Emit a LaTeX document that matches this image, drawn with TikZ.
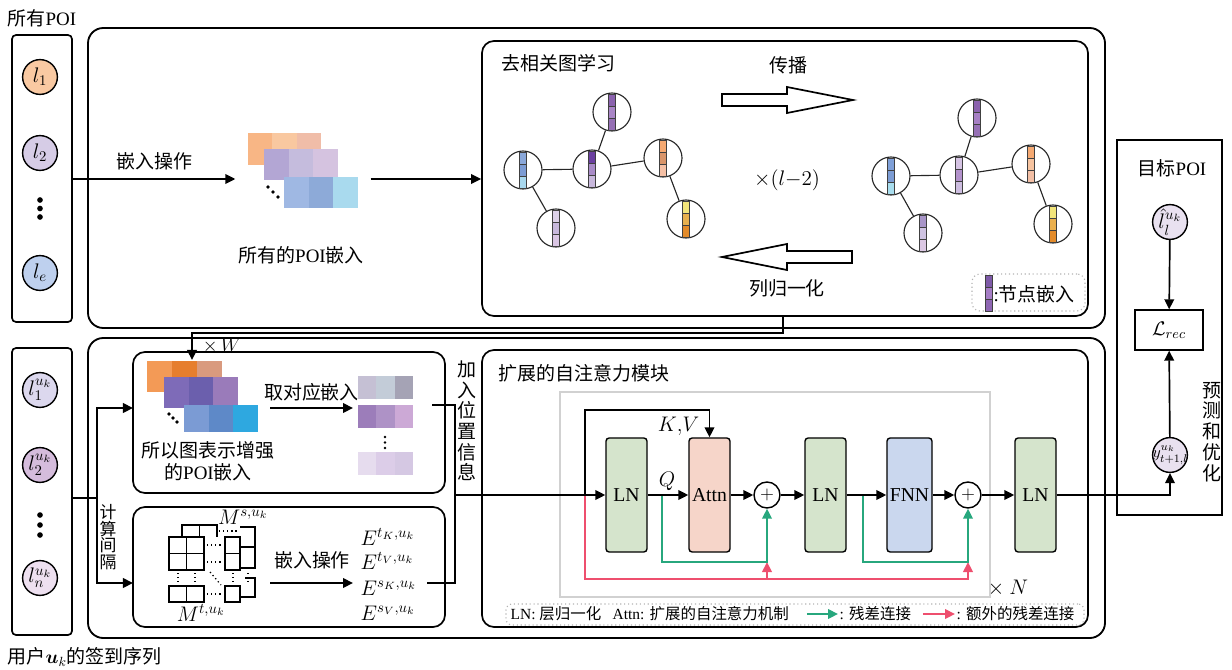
\RequirePackage{fix-cm}
\documentclass[tikz,border=0pt]{standalone}
\usepackage{amsmath}
\usepackage{fontspec}
\setmainfont{Liberation Serif}
\newfontfamily\cjk{Noto Sans CJK SC}
\usepackage{xcolor}
\usepackage{tikz}
\usetikzlibrary{arrows.meta,positioning,calc,fit}

\definecolor{poiorange}{HTML}{F9C9A2}
\definecolor{poililac}{HTML}{D6CCE6}
\definecolor{poiblue}{HTML}{BED0EE}
\definecolor{seqone}{HTML}{DCD8EE}
\definecolor{seqtwo}{HTML}{D5BCDC}
\definecolor{seqn}{HTML}{EEE0F0}
\definecolor{tgtfill}{HTML}{E9E1F0}
\definecolor{lngreen}{HTML}{D5E4CC}
\definecolor{attnpink}{HTML}{F6D5C9}
\definecolor{fnnblue}{HTML}{CAD7EE}
\definecolor{resgreen}{HTML}{27A77D}
\definecolor{extred}{HTML}{EE4F6E}

\begin{document}
\begin{tikzpicture}[x=0.025cm, y=-0.025cm,
    panel/.style={draw, line width=1.3pt, rounded corners=0.38cm, inner sep=0pt},
    subpanel/.style={draw, line width=1.2pt, rounded corners=0.3cm, inner sep=0pt},
    seqpanel/.style={draw, line width=1.2pt, rounded corners=1mm, inner sep=0pt},
    poi/.style={circle, draw, line width=1pt, minimum size=0.87cm, inner sep=-5pt, font=\fontsize{15}{17}\selectfont},
    gcirc/.style={circle, draw=black!85, line width=0.8pt, minimum size=0.95cm, inner sep=0pt},
    cellbar/.style={draw=black!75, line width=0.4pt},
    gedge/.style={draw=black!85, line width=0.8pt},
    blk/.style={draw, line width=1pt, rounded corners=0.8mm, minimum width=1.025cm, minimum height=2.85cm, inner sep=0pt, font=\fontsize{14}{16}\selectfont},
    sumnode/.style={circle, draw, line width=1pt, minimum size=0.65cm, inner sep=0pt, font=\fontsize{13}{14}\selectfont},
    conn/.style={line width=1.2pt},
    arr/.style={conn, -{Triangle[length=2.5mm,width=2.4mm]}},
    resline/.style={line width=1.2pt, draw=resgreen, -{Triangle[length=2.5mm,width=2.4mm]}},
    extline/.style={line width=1.2pt, draw=extred, -{Triangle[length=2.5mm,width=2.4mm]}},
    hollow/.style={draw, line width=1.2pt, line join=miter},
    txt/.style={font=\fontsize{13.5}{15.5}\selectfont, inner sep=1pt},
    mtxt/.style={font=\fontsize{15}{17}\selectfont, inner sep=1pt},
    legtxt/.style={font=\fontsize{11}{12}\selectfont, inner sep=1pt},
    cjkv/.style={font=\cjk\fontsize{13.5}{14.6}\selectfont, align=center, inner sep=0pt},
    legbox/.style={draw=black!30, dotted, line width=0.8pt, inner sep=0pt}]

\useasboundingbox (0,0) rectangle (1232,670);

% ---- panels ----
\node[seqpanel, fit={(12,35) (72,322)}] (poiall) {};
\node[seqpanel, fit={(12,348) (72,635)}] (seqbox) {};
\node[panel, fit={(88,28) (1105,328)}] (topbox) {};
\node[panel, fit={(88,338) (1105,638)}] (botbox) {};
\node[subpanel, fit={(482,41) (1088,316)}] (decor) {};
\node[subpanel, fit={(133,352) (445,493)}] (enhbox) {};
\node[subpanel, fit={(133,507) (445,627)}] (gapbox) {};
\node[subpanel, fit={(482,350) (1088,627)}] (attnbox) {};
\node[draw=black!18, line width=1pt, fit={(560,392) (990,597)}, inner sep=0pt] (layerbox) {};
\node[draw, line width=1.1pt, fit={(1117,140) (1222,515)}, inner sep=0pt] (predbox) {};

% ---- all POIs ----
\node[txt, anchor=west] (poititle) at (6,18) {{\cjk 所有}POI};
\node[poi, fill=poiorange] (p1) at (40,77) {$l_1$};
\node[poi, fill=poililac] (p2) at (40,153) {$l_2$};
\foreach \yy in {200,208.5,217} \fill (40,\yy) circle (2pt);
\node[poi, fill=poiblue] (pe) at (40,273) {$l_e$};

% ---- check-in sequence ----
\node[txt, anchor=west] (seqtitle) at (6,657) {{\cjk 用户}$\boldsymbol{u}_k${\cjk 的签到序列}};
\node[poi, fill=seqone] (s1) at (40,390) {$l_1^{u_k}$};
\node[poi, fill=seqtwo] (s2) at (40,465) {$l_2^{u_k}$};
\foreach \yy in {515,525,535} \fill (40,\yy) circle (2pt);
\node[poi, fill=seqn] (sn) at (40,578) {$l_n^{u_k}$};

% ---- all POI embeddings ----
\foreach \ex/\ey/\ew/\eh/\ca/\cb/\cc in {248/133/24.3/32/F8B685/F9C8A0/F0BDA8,
    264/149/24.7/31/B3A6D4/C5BCDD/D5C3E0, 284/177/24.7/31/9FB8E3/8DAAD8/A9DAEE} {
  \definecolor{cella}{HTML}{\ca}
  \definecolor{cellb}{HTML}{\cb}
  \definecolor{cellc}{HTML}{\cc}
  \fill[cella] (\ex,\ey) rectangle ++(\ew,\eh);
  \fill[cellb] (\ex+\ew,\ey) rectangle ++(\ew,\eh);
  \fill[cellc] (\ex+2*\ew,\ey) rectangle ++(\ew,\eh);
}
\foreach \dx/\dy in {268/187,273/192,278/197} \fill (\dx,\dy) circle (1.3pt);
\node[fit={(248,133) (358,208)}, inner xsep=0.31cm, inner ysep=0pt] (allemb) {};
\node[txt] (allembtxt) at (301,255) {{\cjk 所有的}POI{\cjk 嵌入}};

\coordinate (embrow) at (0,179);
\draw[arr] (poiall.east |- embrow) -- node[txt, above=5pt] (embop) {\cjk 嵌入操作} (allemb.west |- embrow);
\draw[arr] (allemb.east |- embrow) -- (decor.west |- embrow);

% ---- decorrelated graph learning ----
\node[txt, anchor=west] (decortitle) at (500,63) {\cjk 去相关图学习};
\foreach \nm/\px/\py/\ca/\cb/\cc in {
    ga1/612/112/8B62AE/A985C6/9670B5, ga2/523/170/8AA8DA/7C9CD4/A8D8EE,
    ga3/592/169/6B3FA0/A98BC8/C8B8DC, ga4/663/158/F5A972/D9956A/F5C0A5,
    ga5/556/228/DCD0E8/C8B8DC/D9C5E3, ga6/686/219/F3E57A/E8B04E/E38B2A,
    gb1/977/118/8B62AE/A67FC4/9670B5, gb2/891/176/7FA0D8/7C9CD4/A8DDEE,
    gb3/959/175/D5C3E3/B392CC/CDBDE0, gb4/1031/164/F5A972/F7C4A0/F3BFA5,
    gb5/923/233/A895C8/CFC3E2/DCC8E4, gb6/1053/224/F3E57A/EBB04E/E38B2A} {
  \node[gcirc] (\nm) at (\px,\py) {};
  \definecolor{cella}{HTML}{\ca}
  \definecolor{cellb}{HTML}{\cb}
  \definecolor{cellc}{HTML}{\cc}
  \filldraw[cellbar, fill=cella] (\px-3.5,\py-18) rectangle ++(7,12);
  \filldraw[cellbar, fill=cellb] (\px-3.5,\py-6) rectangle ++(7,12);
  \filldraw[cellbar, fill=cellc] (\px-3.5,\py+6) rectangle ++(7,12);
}
\foreach \g in {ga,gb} {
  \draw[gedge] (\g2) -- (\g3);
  \draw[gedge] (\g3) -- (\g1);
  \draw[gedge] (\g3) -- (\g4);
  \draw[gedge] (\g2) -- (\g5);
  \draw[gedge] (\g4) -- (\g6);
}

% propagation / normalisation arrows
\draw[hollow] (722,94) -- (787,94) -- (787,87) -- (853,100) -- (787,113) -- (787,106) -- (722,106) -- cycle;
\draw[hollow] (852,251) -- (787,251) -- (787,244) -- (722,257) -- (787,270) -- (787,263) -- (852,263) -- cycle;
\node[txt] (proptxt) at (788,65) {\cjk 传播};
\node[mtxt] (reptxt) at (787,180) {$\times(l{-}2)$};
\node[txt] (normtxt) at (787,288) {\cjk 列归一化};

% node embedding legend
\node[legbox, rounded corners=2mm, fit={(972,274) (1085,311)}] (nodeleg) {};
\foreach \hx [count=\k] in {7E5AA8,A57DC5,8E66B3} {
  \definecolor{cella}{HTML}{\hx}
  \filldraw[cellbar, fill=cella] (985,263+12*\k) rectangle ++(7,12);
}
\node[txt, anchor=west] (nodelegtxt) at (992,294) {:{\cjk 节点嵌入}};

% ---- feed back with W ----
\coordinate (wturn) at (783,333);
\coordinate (wtip) at (192,360);
\draw[arr] (decor.south -| wturn) -- (wturn) -| (wtip);
\node[txt] (wlabel) at (222,346) {$\times\,W$};

% ---- graph enhanced embeddings ----
\foreach \ex/\ey/\ew/\eh/\ca/\cb/\cc in {147/361/25/31/F39A56/E67E2E/D99A7E,
    164/377/24.7/31/7E6BB8/6B5FAD/9A7BBA, 184/405/24.7/27/7B9BD4/5E89C8/2EA8E0,
    358/376/18.3/23/C5C0D4/C3CCD8/A5A3B5, 358/405/18.3/23/9C7DBA/AE92C6/CCA9D6,
    358/452/18.3/23/E6DCEE/DCCDE8/D5C8E3} {
  \definecolor{cella}{HTML}{\ca}
  \definecolor{cellb}{HTML}{\cb}
  \definecolor{cellc}{HTML}{\cc}
  \fill[cella] (\ex,\ey) rectangle ++(\ew,\eh);
  \fill[cellb] (\ex+\ew,\ey) rectangle ++(\ew,\eh);
  \fill[cellc] (\ex+2*\ew,\ey) rectangle ++(\ew,\eh);
}
\foreach \dx/\dy in {169/414,173/418,177/422} \fill (\dx,\dy) circle (1.3pt);
\foreach \dy in {437,442.5,448} \fill (385,\dy) circle (1pt);
\node[txt, align=center, font=\fontsize{13.5}{15.5}\selectfont] (enhtxt) at (208,461) {{\cjk 所以图表示增强}\\{\cjk 的}POI{\cjk 嵌入}};
\coordinate (lkpa) at (270,408);
\coordinate (lkpb) at (353,408);
\draw[arr] (lkpa) -- node[txt, above=3pt] (lkptxt) {\cjk 取对应嵌入} (lkpb);

% ---- interval matrices ----
\begin{scope}[line width=0.8pt]
  \draw (182,537) -- (182,525) -- (217,525) -- (217,537);
  \draw (199.5,525) -- (199.5,537);
  \draw (240,527) -- (255,527) -- (255,568) -- (240,568);
  \draw (240,547) -- (255,547);
  \draw (245,578) -- (255,578) -- (255,597) -- (240,597);
  \draw (169,537) rectangle (204,570);
  \draw (186.5,537) -- (186.5,570);
  \draw (169,553.5) -- (204,553.5);
  \draw (225,537) rectangle (240,570);
  \draw (225,553.5) -- (240,553.5);
  \draw (169,586) rectangle (204,602);
  \draw (186.5,586) -- (186.5,602);
  \draw (225,586) rectangle (240,602);
\end{scope}
\begin{scope}[dotted, line width=0.9pt]
  \draw (207,545) -- (222,545);
  \draw (207,562) -- (222,562);
  \draw (207,594) -- (222,594);
  \draw (219,531) -- (238,531);
  \foreach \vx in {178,195,233,248} \draw (\vx,573) -- (\vx,584);
  \draw (210,572) -- (221,585);
\end{scope}
\node[mtxt] (mspat) at (243,517) {$M^{s,u_k}$};
\node[mtxt] (mtemp) at (201,613) {$M^{t,u_k}$};
\coordinate (gapa) at (270,583);
\coordinate (gapb) at (353,583);
\draw[arr] (gapa) -- (gapb);
\node[txt] (gaptxt) at (312,560) {\cjk 嵌入操作};
\node[mtxt, anchor=west] (etk) at (359,537) {$E^{t_K,u_k}$};
\node[mtxt, anchor=west] (etv) at (359,561) {$E^{t_V,u_k}$};
\node[mtxt, anchor=west] (esk) at (359,588) {$E^{s_K,u_k}$};
\node[mtxt, anchor=west] (esv) at (359,613) {$E^{s_V,u_k}$};

% ---- interval split ----
\coordinate (ivx) at (97,498);
\coordinate (enhin) at (133,408);
\coordinate (gapin) at (133,583);
\draw[conn] (seqbox.east |- ivx) -- (ivx);
\draw[arr] (ivx) |- (enhin);
\draw[arr] (ivx) |- (gapin);
\node[cjkv, font=\cjk\fontsize{12}{11.8}\selectfont] (ivtxt) at (108,537) {计\\算\\间\\隔};

% ---- position information ----
\coordinate (posa) at (432,405);
\coordinate (posb) at (427,583);
\coordinate (posx) at (455,495);
\draw[conn] (posa) -| (posx |- posb) -- (posb);
\node[cjkv] (postxt) at (467,421) {加\\入\\位\\置\\信\\息};

% ---- self-attention module ----
\node[txt, anchor=west] (attntitle) at (497,373) {\cjk 扩展的自注意力模块};
\node[blk, fill=lngreen] (ln1) at (626.5,495) {LN};
\node[blk, fill=attnpink] (attn) at (709.5,495) {Attn};
\node[sumnode] (plus1) at (767,495) {$+$};
\node[blk, fill=lngreen] (ln2) at (825.5,495) {LN};
\node[blk, fill=fnnblue, minimum width=1.125cm] (fnn) at (909.5,495) {FNN};
\node[sumnode] (plus2) at (968,495) {$+$};
\node[blk, fill=lngreen] (ln3) at (1035.5,495) {LN};

\coordinate (inpsplit) at (585,495);
\coordinate (kvtop) at (585,410);
\coordinate (qsplit) at (662,495);
\coordinate (fsplit) at (863,495);
\coordinate (grnlow) at (0,562);
\coordinate (redlow) at (0,579);

\draw[extline] (inpsplit) |- (plus2 |- redlow) -- (plus2 |- grnlow);
\draw[extline] (plus1 |- redlow) -- (plus1 |- grnlow);
\draw[resline] (qsplit) |- (plus1 |- grnlow) -- (plus1.south);
\draw[resline] (fsplit) |- (plus2 |- grnlow) -- (plus2.south);

\draw[arr] (posx) -- (ln1.west);
\draw[arr] (inpsplit) -- (kvtop) -| (attn.north);
\node[mtxt, anchor=east] (kvtxt) at (701,426) {$K{,}V$};
\draw[arr] (ln1) -- (attn);
\node[mtxt] (qtxt) at (667,481) {$Q$};
\draw[arr] (attn) -- (plus1);
\draw[arr] (plus1) -- (ln2);
\draw[arr] (ln2) -- (fnn);
\draw[arr] (fnn) -- (plus2);
\draw[arr] (plus2) -- (ln3);
\node[mtxt] (reptimes) at (1008,588) {$\times$ $N$};

% legend of the module
\node[legbox, rounded corners=1.5mm, fit={(506,604) (1084,625)}] (attnleg) {};
\node[legtxt, anchor=west] (lgln) at (509,614) {LN: {\cjk 层归一化}};
\node[legtxt, anchor=west] (lgattn) at (611,614) {Attn: {\cjk 扩展的自注意力机制}};
\node[legtxt, anchor=west] (lgres) at (838,614) {: {\cjk 残差连接}};
\node[legtxt, anchor=west] (lgext) at (955,614) {: {\cjk 额外的残差连接}};
\draw[resline] ([xshift=-0.78cm]lgres.west) -- (lgres.west);
\draw[extline] ([xshift=-0.8cm]lgext.west) -- (lgext.west);

% ---- prediction and optimisation ----
\node[txt] (tgttxt) at (1172,168) {{\cjk 目标}POI};
\node[poi, fill=tgtfill] (lhat) at (1170,222) {$\hat{l}_l^{u_k}$};
\node[draw, line width=1pt, minimum width=1.7cm, minimum height=1cm, font=\fontsize{14}{15}\selectfont] (lrec) at (1169,330) {$\mathcal{L}_{rec}$};
\node[poi, fill=tgtfill, font=\fontsize{11.5}{12}\selectfont] (yout) at (1170,455) {$y_{t+1,l}^{u_k}$};
\draw[arr] (lhat) -- (lrec);
\draw[arr] (yout) -- (lrec);
\draw[arr] (ln3.east) -| (yout.south);
\node[cjkv, font=\cjk\fontsize{13.5}{14.8}\selectfont] (predtxt) at (1212,432) {预\\测\\和\\优\\化};

\end{tikzpicture}
\end{document}
